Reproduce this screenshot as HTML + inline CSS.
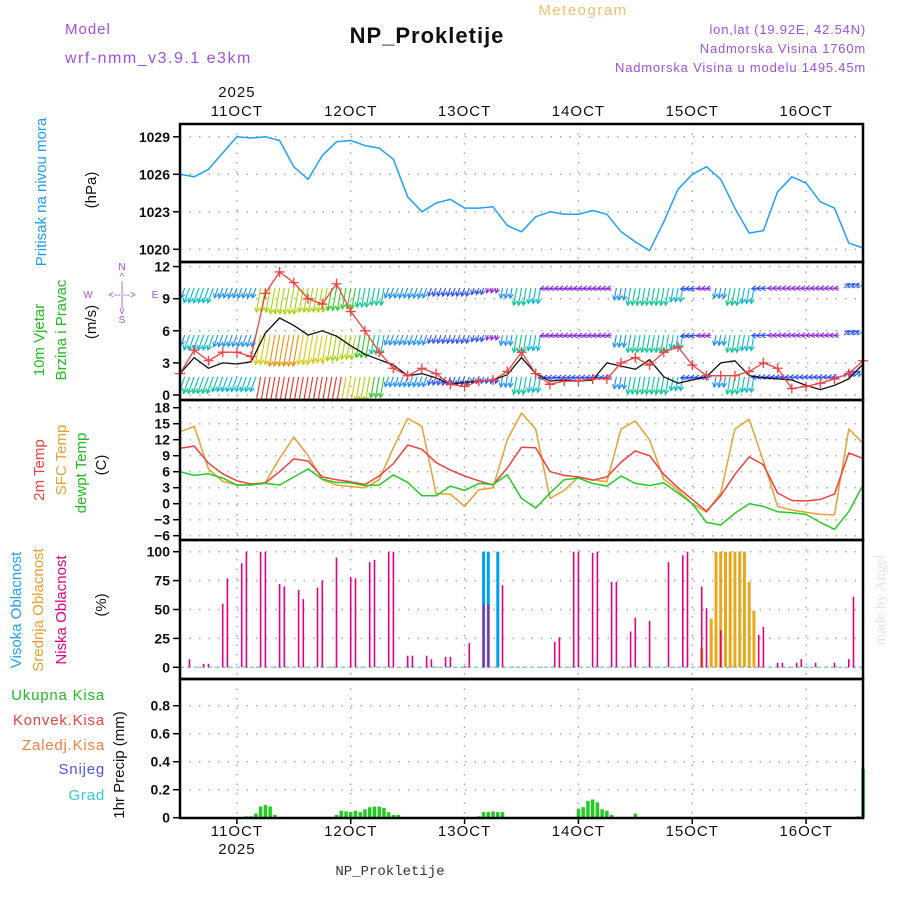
<!DOCTYPE html>
<html><head><meta charset="utf-8"><style>
html,body{margin:0;padding:0;background:#fff;}
svg{display:block;font-family:"Liberation Sans",sans-serif;}
</style></head><body>
<svg id="chart" width="900" height="900" viewBox="0 0 900 900" xmlns="http://www.w3.org/2000/svg">
<defs>
<clipPath id="windClip"><rect x="181" y="263" width="681" height="136"/></clipPath>
</defs>
<g>
<text x="65" y="34" fill="#a050e0" font-size="15" letter-spacing="1">Model</text>
<text x="65" y="63" fill="#a050e0" font-size="16" letter-spacing="1.5">wrf-nmm_v3.9.1 e3km</text>
<text x="427" y="43" fill="#111" font-size="22" font-weight="bold" text-anchor="middle" letter-spacing="1">NP_Prokletije</text>
<text x="583" y="15" fill="#f0c070" font-size="15" text-anchor="middle" letter-spacing="1.5">Meteogram</text>
<text x="866" y="34" fill="#a050e0" font-size="13" text-anchor="end" letter-spacing="0.8">lon,lat (19.92E, 42.54N)</text>
<text x="866" y="53" fill="#a050e0" font-size="13" text-anchor="end" letter-spacing="0.8">Nadmorska Visina 1760m</text>
<text x="866" y="72" fill="#a050e0" font-size="13" text-anchor="end" letter-spacing="0.8">Nadmorska Visina u modelu 1495.45m</text>
</g>
<g>
<text transform="translate(46,192) rotate(-90)" text-anchor="middle" fill="#1e9bff" font-size="15">Pritisak na nivou mora</text>
<text transform="translate(96,190) rotate(-90)" text-anchor="middle" fill="#111" font-size="15">(hPa)</text>
<text transform="translate(44,340) rotate(-90)" text-anchor="middle" fill="#22bb22" font-size="15">10m Vjetar</text>
<text transform="translate(66,330) rotate(-90)" text-anchor="middle" fill="#22bb22" font-size="15">Brzina i Pravac</text>
<text transform="translate(96,322) rotate(-90)" text-anchor="middle" fill="#111" font-size="15">(m/s)</text>
<g fill="#a050e0" font-size="10" text-anchor="middle">
<text x="122" y="270">N</text><text x="122" y="280">^</text><text x="122" y="289">|</text>
<text x="88" y="298">W</text><text x="122" y="298">&lt;--|--&gt;</text><text x="155" y="298">E</text>
<text x="122" y="307">|</text><text x="122" y="314">v</text><text x="122" y="323">S</text>
</g>
<text transform="translate(44,470) rotate(-90)" text-anchor="middle" fill="#f04040" font-size="15">2m Temp</text>
<text transform="translate(66,460) rotate(-90)" text-anchor="middle" fill="#e8a030" font-size="15">SFC Temp</text>
<text transform="translate(86,473) rotate(-90)" text-anchor="middle" fill="#22bb22" font-size="15">dewpt Temp</text>
<text transform="translate(106,465) rotate(-90)" text-anchor="middle" fill="#111" font-size="15">(C)</text>
<text transform="translate(21,610) rotate(-90)" text-anchor="middle" fill="#1ea0ff" font-size="15">Visoka Oblacnost</text>
<text transform="translate(43,610) rotate(-90)" text-anchor="middle" fill="#e8a030" font-size="15">Srednja Oblacnost</text>
<text transform="translate(66,610) rotate(-90)" text-anchor="middle" fill="#e6007e" font-size="15">Niska Oblacnost</text>
<text transform="translate(106,605) rotate(-90)" text-anchor="middle" fill="#111" font-size="15">(%)</text>
<g font-size="15" text-anchor="end" letter-spacing="0.8">
<text x="105" y="700" fill="#22bb22">Ukupna  Kisa</text>
<text x="105" y="725" fill="#f04040">Konvek.Kisa</text>
<text x="105" y="750" fill="#f08040">Zaledj.Kisa</text>
<text x="105" y="774" fill="#5050f0">Snijeg</text>
<text x="105" y="800" fill="#30d0d0">Grad</text>
</g>
<text transform="translate(124,765) rotate(-90)" text-anchor="middle" fill="#111" font-size="15">1hr Precip (mm)</text>
<text transform="translate(885,600) rotate(-90)" text-anchor="middle" fill="#dde8dd" font-size="15" font-family="Liberation Serif, serif">made by Angel</text>
<text x="390" y="875" fill="#333" font-size="14" text-anchor="middle" font-family="Liberation Mono, monospace">NP_Prokletije</text>
</g>
<g id="plot"></g>
</svg>
<script>
// ---- data (3-hourly, from 10 OCT 12Z to 16 OCT 12Z) ----
const dayLabels = ["11OCT","12OCT","13OCT","14OCT","15OCT","16OCT"];
const pressure = [1026.0,1025.8,1026.4,1027.7,1029.0,1028.9,1029.0,1028.7,1026.6,1025.6,1027.5,1028.6,1028.7,1028.3,1028.1,1027.2,1024.2,1023.0,1023.7,1024.0,1023.3,1023.3,1023.4,1021.9,1021.4,1022.6,1023.0,1022.8,1022.8,1023.1,1022.8,1021.4,1020.6,1019.9,1022.2,1024.8,1026.0,1026.6,1025.6,1023.3,1021.3,1021.5,1024.6,1025.8,1025.3,1023.8,1023.3,1020.5,1020.1];
const temp2m = [10.4,10.8,7.6,5.6,4.3,3.7,3.9,6.0,8.4,8.0,5.0,4.5,4.1,3.6,5.2,7.5,11.0,10.2,7.7,6.3,5.2,4.3,3.5,6.7,10.6,10.5,6.0,5.3,5.0,4.4,5.0,7.8,9.9,9.0,5.5,3.0,0.8,-1.4,1.5,5.5,8.8,7.3,2.0,0.6,0.5,0.8,1.8,9.5,8.5];
const tempSfc = [13.5,14.5,6.5,4.2,3.5,3.5,4.0,8.5,12.5,9.0,4.5,3.5,3.2,3.0,4.5,10.5,16.0,14.5,1.9,1.8,-0.5,2.6,3.0,12.0,17.0,14.0,1.0,2.5,5.0,4.5,4.1,14.0,15.5,12.0,4.6,2.5,0.0,-1.6,2.0,14.0,15.8,8.0,-0.5,-1.2,-1.6,-2.0,-2.1,14.0,11.3];
const tempDew = [6.0,5.3,5.6,4.8,3.5,3.5,3.8,3.5,5.0,6.5,4.6,4.0,3.9,3.4,3.5,5.4,4.0,1.5,1.5,3.3,2.5,3.8,3.6,5.4,1.0,-0.8,2.0,4.5,4.8,3.8,3.3,5.2,3.8,3.4,3.9,2.0,0.0,-3.5,-4.0,-1.8,0.0,-0.5,-1.5,-1.7,-2.0,-3.5,-4.8,-1.5,3.5];
const windSpeed = [2.0,3.5,2.5,3.0,2.9,3.1,5.8,7.2,6.5,5.6,6.0,5.5,4.6,3.8,3.3,2.8,1.8,2.0,1.6,1.0,1.2,1.3,1.4,1.9,3.5,2.0,1.3,1.4,1.3,1.4,3.0,2.7,2.4,3.3,1.7,1.1,1.4,1.7,3.0,3.2,1.8,1.6,1.5,1.4,0.9,0.5,0.9,1.5,2.9];
const windGust = [2.0,4.2,3.2,4.0,4.0,3.6,9.5,11.5,10.5,9.0,8.5,10.4,7.8,6.0,4.0,2.5,1.8,2.5,2.0,1.0,0.8,1.3,1.4,2.2,4.0,2.0,1.0,1.3,1.3,1.5,1.5,3.0,3.5,2.8,4.0,4.5,2.8,1.8,1.8,1.8,2.2,3.0,2.5,0.6,0.8,1.1,1.5,2.0,3.2];
const row1Spd = [3,4.5,4.5,3,3,3,7,7.5,7.5,7,7,6.5,6,5.5,5,3,3,3,2.5,2.5,2.5,2,1.5,3,5,4.5,1.5,1.5,1.5,1.5,1.5,3.5,5,5,5,4,2,1.5,3,5,4.5,2,1.5,1.5,1.5,1.5,1.5,2,3];
const row2Spd = [3,4.5,4.5,3.5,3.5,3.5,8.5,9,9,8.5,8,7.5,7,6.5,5.5,3,3,3,2.5,2.5,2.5,2,1.5,3,5,4.5,1.5,1.5,1.5,1.5,1.5,3.5,5,5,5,4,2,1.5,3,5,4.5,2,1.5,1.5,1.5,1.5,1.5,2,3.5];
const row3Spd = [4.5,5,5,4.5,4.5,4.5,10,10.5,11,11,10.5,10,8,7,6,3,3,3,2.5,2.5,2.5,2,2,3,5,4.5,2,2,2,2,2,3.5,5,5,5,4,2,2,3,5,4.5,2,2,2,2,2,2,2.5,3.5];
const windDir = [20,20,20,20,20,20,10,10,10,10,10,10,10,10,10,20,20,20,20,20,20,20,20,10,10,10,80,80,80,80,80,10,10,10,10,10,80,80,10,10,10,85,85,85,85,85,85,230,230];
// hourly, sparse (hour index from start, value)
const lowCloudHour = [2,5,6,9,10,13,14,17,18,21,22,25,26,29,30,33,36,37,40,41,44,45,48,49,52,53,56,57,60,61,64,65,68,79,80,83,84,87,88,91,92,95,96,99,103,106,107,110,111,114,122,123,126,127,130,131,134,138,141,142];
const lowCloudVal = [7,3,3,55,77,90,100,100,100,72,70,67,59,69,75,95,78,77,91,93,100,100,10,10,10,7,9,9,1,21,54,54,71,22,26,100,100,99,100,74,74,31,43,40,91,97,100,70,51,32,28,35,4,4,4,7,4,4,7,61];
const highCloudHour = [64,65,67];
const highCloudVal = [100,100,100];
const midCloudHour = [110,112,113,114,115,116,117,118,119,120,121];
const midCloudVal = [17,42,100,100,100,100,100,100,100,74,49];
const precipHour = [14,15,16,17,18,19,20,31,32,33,34,35,36,37,38,39,40,41,42,43,44,45,46,63,64,65,66,67,68,83,84,85,86,87,88,89,90,91,96,99,104,106,107,143,144];
const precipVal = [0.01,0.01,0.03,0.08,0.09,0.08,0.02,0.005,0.005,0.02,0.05,0.045,0.04,0.05,0.04,0.06,0.075,0.08,0.08,0.07,0.04,0.02,0.02,0.01,0.04,0.04,0.045,0.04,0.04,0.005,0.065,0.075,0.12,0.13,0.11,0.06,0.05,0.02,0.03,0.005,0.005,0.005,0.005,0.01,0.35];
const pressTicks = [1020,1023,1026,1029];
const windTicks = [0,3,6,9,12];
const tempTicks = [-6,-3,0,3,6,9,12,15,18];
const cloudTicks = [0,25,50,75,100];
const precipTicks = ["0","0.2","0.4","0.6","0.8"];

// ---- axes ----
const X0 = 180, X1 = 863;
const x3 = i => X0 + i * (X1 - X0) / 48;
const xH = h => X0 + h * (X1 - X0) / 144;
const xDay = d => X0 + (d + 0.5) * (X1 - X0) / 6;
const yP = v => 249.3 - (v - 1020) * 12.5;
const yW = v => 395 - v * 10.7;
const yT = v => 503.7 - v * 5.333;
const yC = v => 667.3 - v * 1.156;
const yR = v => 817.7 - v * 140;
const panels = [[124,262],[262,400],[400,540],[540,679],[679,818]];
const NS = "http://www.w3.org/2000/svg";
const plot = document.getElementById('plot');
function mk(tag, attrs, parent) {
  const e = document.createElementNS(NS, tag);
  for (const k in attrs) e.setAttribute(k, attrs[k]);
  (parent || plot).appendChild(e);
  return e;
}
function txt(x, y, s, attrs, parent) { const t = mk('text', Object.assign({x: x, y: y}, attrs), parent); t.textContent = s; return t; }

// grid
const grid = mk('g', {stroke: '#aaa', 'stroke-width': 1.5, 'stroke-dasharray': '1.5,8'});


for (let d = 0; d < 6; d++) {
  panels.forEach(p => { mk('line', {x1: xDay(d), x2: xDay(d), y1: p[0], y2: p[1]}, grid); });
}
function hgrid(ticks, yf) {
  ticks.forEach((t) => {
    const y = yf(typeof t === 'string' ? parseFloat(t) : t);
    mk('line', {x1: X0, x2: X1, y1: y, y2: y}, grid);
    mk('line', {x1: X0 - 7, x2: X0, y1: y, y2: y, stroke: '#000', 'stroke-width': 1.5});
    const l = txt(X0 - 10, y + 5, String(t).replace('-', '\u2212'), {'text-anchor': 'end', 'font-size': 14, 'font-weight': 'bold', fill: '#111'});
    
    
  });
}
hgrid(pressTicks, yP); hgrid(windTicks, yW); hgrid(tempTicks, yT); hgrid(cloudTicks, yC); hgrid(precipTicks, yR);

// date labels
dayLabels.forEach((s, d) => {
  const t1 = txt(xDay(d), 116, s, {'text-anchor': 'middle', 'font-size': 15, fill: '#111', 'letter-spacing': 1});
  
  
  const t2 = txt(xDay(d), 836, s, {'text-anchor': 'middle', 'font-size': 15, fill: '#111', 'letter-spacing': 1});
  
  
  mk('line', {x1: xDay(d), x2: xDay(d), y1: 818, y2: 824, stroke: '#000', 'stroke-width': 1.5});
});
const yr1 = txt(xDay(0), 97, '2025', {'text-anchor': 'middle', 'font-size': 15, fill: '#111', 'letter-spacing': 1});


const yr2 = txt(xDay(0), 854, '2025', {'text-anchor': 'middle', 'font-size': 15, fill: '#111', 'letter-spacing': 1});



function line(arr, yf, color, name, w) {
  const pts = arr.map((v, i) => x3(i).toFixed(1) + ',' + yf(v).toFixed(1)).join(' ');
  const p = mk('polyline', {points: pts, fill: 'none', stroke: color, 'stroke-width': w || 1.5, 'stroke-linejoin': 'round'});
  
  
  return p;
}
// pressure
line(pressure, yP, '#1ea0ff', 'pressure-line');

// wind arrows
function windColor(s) {
  if (s < 1.8) return '#8a2be2';
  if (s < 2.8) return '#2a50ff';
  if (s < 3.8) return '#1a90ff';
  if (s < 4.8) return '#00bcd0';
  if (s < 5.6) return '#00c890';
  if (s < 6.6) return '#30cc20';
  if (s < 7.6) return '#a8d400';
  if (s < 8.6) return '#e0c800';
  if (s < 9.6) return '#f09000';
  return '#f03020';
}
const windG = mk('g', {'clip-path': 'url(#windClip)', 'stroke-width': 1.1, fill: 'none'});


[[row1Spd, 10.0], [row2Spd, 5.6], [row3Spd, 1.7]].forEach(([spd, base]) => {
  spd.forEach((s, i) => {
    for (let k = -1; k <= 1; k++) {
      const h = 3 * i + k;
      if (h < 0 || h > 144) continue;
      const x = xH(h), y = yW(base);
      const th = (windDir[i] + 180) * Math.PI / 180;
      const L = s * 3.5;
      const ex = x + Math.sin(th) * L, ey = y - Math.cos(th) * L;
      const col = windColor(s);
      const a = mk('path', {d: `M${x.toFixed(1)},${y.toFixed(1)}L${ex.toFixed(1)},${ey.toFixed(1)}` +
        `M${(ex - Math.sin(th - 0.5) * 5).toFixed(1)},${(ey + Math.cos(th - 0.5) * 5).toFixed(1)}L${ex.toFixed(1)},${ey.toFixed(1)}` +
        `L${(ex - Math.sin(th + 0.5) * 5).toFixed(1)},${(ey + Math.cos(th + 0.5) * 5).toFixed(1)}`, stroke: col}, windG);
      
      
    }
  });
});
line(windSpeed, yW, '#111', 'wind-speed-line', 1.3);
line(windGust, yW, '#f04040', 'wind-gust-line', 1.3);
const gustMarks = mk('g', {stroke: '#f04040', 'stroke-width': 1.3});


windGust.forEach((v, i) => {
  const x = x3(i), y = yW(v);
  mk('path', {d: `M${x - 5},${y}h10M${x},${y - 5}v10`}, gustMarks);
});

// temperatures
line(tempSfc, yT, '#e8a030', 'sfc-temp-line');
line(temp2m, yT, '#f04040', 'temp-2m-line');
line(tempDew, yT, '#22cc22', 'dewpoint-line');

// clouds
mk('line', {x1: X0, x2: X1, y1: yC(0), y2: yC(0), stroke: '#8cc8e8', 'stroke-width': 1.5, 'stroke-dasharray': '4,3'});
function bars(hours, vals, yf, color, w, name) {
  hours.forEach((h, k) => {
    const y = yf(vals[k]);
    const r = mk('rect', {x: (xH(h) - w / 2).toFixed(1), y: y.toFixed(1), width: w, height: Math.max(0.5, yf(0) - y).toFixed(1), fill: color});
    
    
  });
}
bars(highCloudHour, highCloudVal, yC, '#00a0f0', 3, 'high-cloud-bar');
bars(midCloudHour, midCloudVal, yC, '#e8a81e', 3, 'mid-cloud-bar');
bars(lowCloudHour, lowCloudVal, yC, '#e6007e', 1.6, 'low-cloud-bar');

// precipitation
bars(precipHour, precipVal, yR, '#22cc22', 3.5, 'precip-bar');
mk('line', {x1: X0, x2: X1, y1: 818, y2: 818, stroke: '#000', 'stroke-width': 2, 'stroke-dasharray': '6,3'});

// frames
panels.forEach(p => {
  const r = mk('rect', {x: X0, y: p[0], width: X1 - X0, height: p[1] - p[0], fill: 'none', stroke: '#000', 'stroke-width': 2.5});
  
  
});
</script>
</body></html>
